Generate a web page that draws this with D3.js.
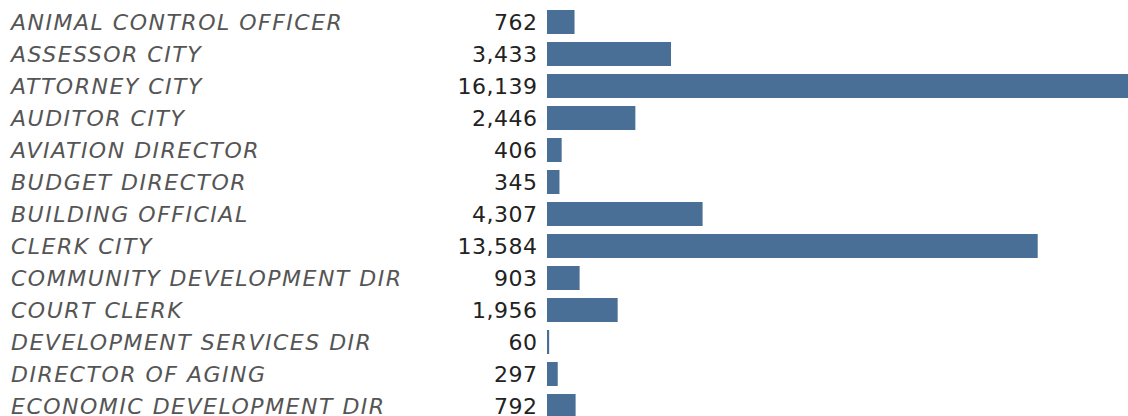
<!DOCTYPE html>
<html>
<head>
<meta charset="utf-8">
<script src="https://cdn.jsdelivr.net/npm/d3@7"></script>
<style>
  html, body { margin: 0; padding: 0; background: #fff; overflow: hidden; }
  svg { display: block; }
</style>
</head>
<body>
<svg id="chart" width="1128" height="416"></svg>
<script>
const categories = [
  "ANIMAL CONTROL OFFICER",
  "ASSESSOR CITY",
  "ATTORNEY CITY",
  "AUDITOR CITY",
  "AVIATION DIRECTOR",
  "BUDGET DIRECTOR",
  "BUILDING OFFICIAL",
  "CLERK CITY",
  "COMMUNITY DEVELOPMENT DIR",
  "COURT CLERK",
  "DEVELOPMENT SERVICES DIR",
  "DIRECTOR OF AGING",
  "ECONOMIC DEVELOPMENT DIR"
];
const values = [762, 3433, 16139, 2446, 406, 345, 4307, 13584, 903, 1956, 60, 297, 792];

const W = 1128, H = 416;
const svg = d3.select("#chart");

const y = d3.scaleBand()
  .domain(categories)
  .range([6, 422])
  .paddingInner(0.25)
  .paddingOuter(0.125);

const barX0 = 547;
const x = d3.scaleLinear()
  .domain([0, d3.max(values)])
  .range([barX0, barX0 + 583]);

const fmt = d3.format(",");
const data = categories.map((c, i) => ({ c, v: values[i] }));

svg.selectAll("rect.bar")
  .data(data)
  .join("rect")
  .attr("class", "bar")
  .attr("x", x(0))
  .attr("y", d => y(d.c))
  .attr("width", d => Math.max(0, x(d.v) - x(0)))
  .attr("height", y.bandwidth())
  .attr("fill", "#4a6f96");

svg.selectAll("text.cat")
  .data(data)
  .join("text")
  .attr("class", "cat")
  .attr("x", 11)
  .attr("y", d => y(d.c) + 20)
  .attr("font-family", "DejaVu Sans")
  .attr("font-style", "italic")
  .attr("font-size", 22)
  .attr("letter-spacing", "1.5px")
  .attr("fill", "#555555")
  .text(d => d.c);

svg.selectAll("text.val")
  .data(data)
  .join("text")
  .attr("class", "val")
  .attr("x", 537.5)
  .attr("y", d => y(d.c) + 20)
  .attr("text-anchor", "end")
  .attr("font-family", "DejaVu Sans")
  .attr("font-size", 22)
  .attr("letter-spacing", "0.5px")
  .attr("fill", "#222222")
  .text(d => fmt(d.v));
</script>
</body>
</html>
